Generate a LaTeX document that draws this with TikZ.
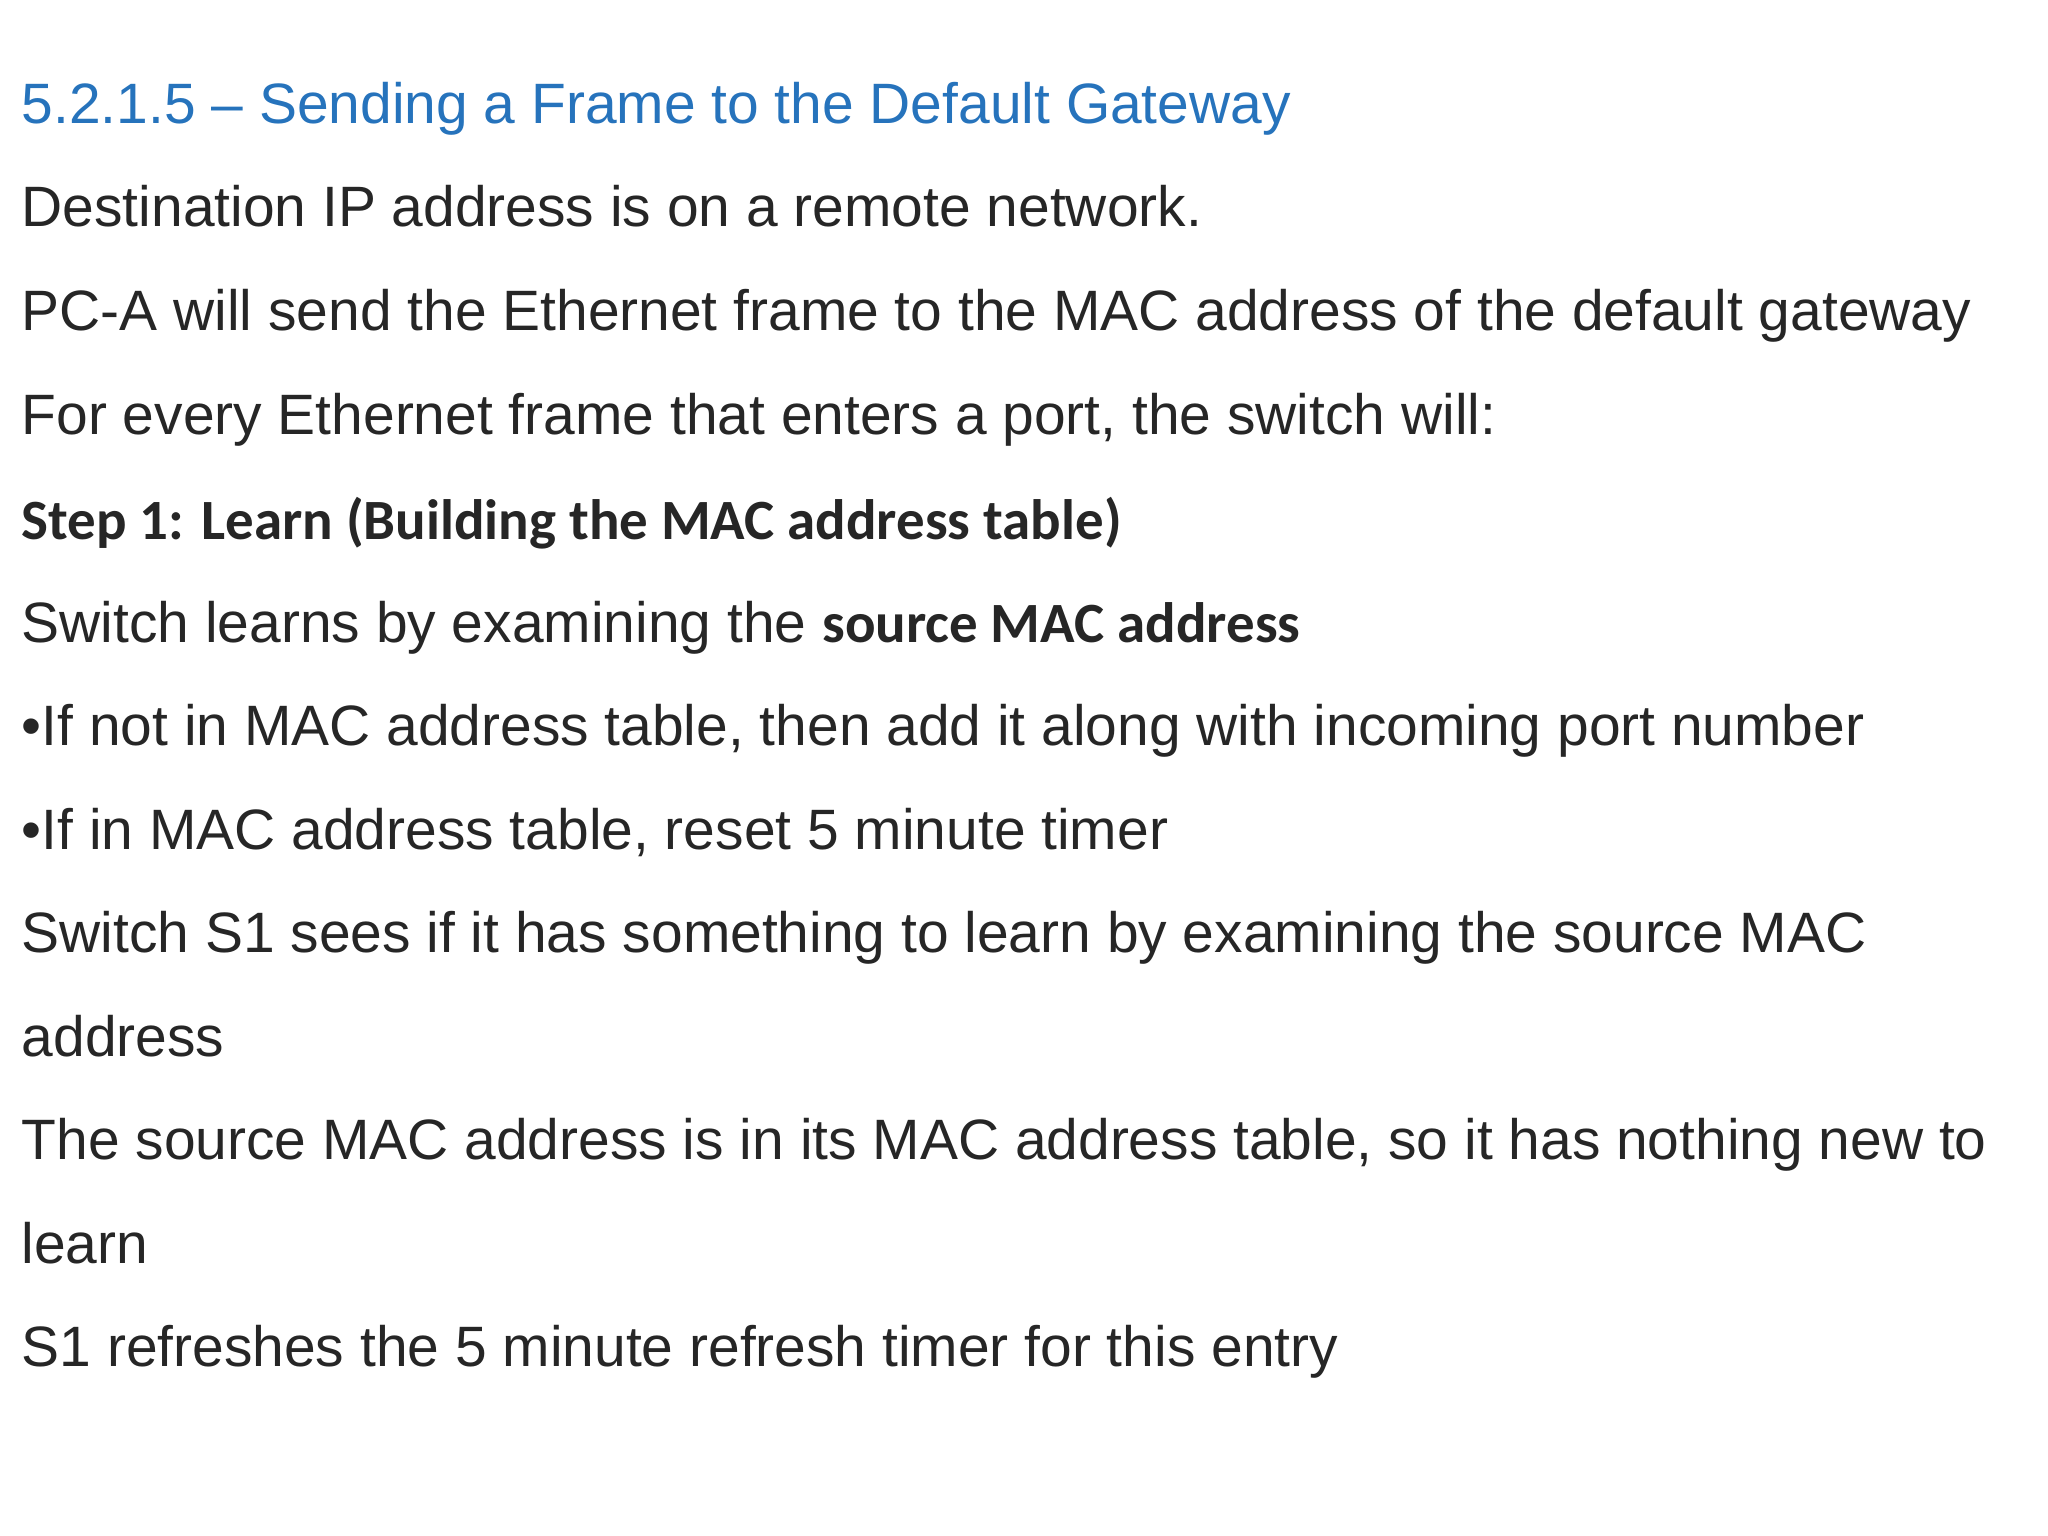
\documentclass[tikz,border=0pt]{standalone}
\usepackage{fontspec}
\setmainfont{Liberation Sans}
\newfontfamily\stepfont{Carlito}
\definecolor{titleblue}{RGB}{38,115,188}
\definecolor{bodytxt}{RGB}{38,38,38}
\begin{document}
\begin{tikzpicture}
\useasboundingbox (0,0) rectangle (20.48,15.36);
\tikzset{txt/.style={anchor=base west, inner sep=0pt, font=\fontsize{16.2pt}{19pt}\selectfont, text=bodytxt}}
\newcommand\bsrc{\stepfont\bfseries\fontsize{16.2pt}{19pt}\selectfont}
\node[txt, text=titleblue] (t) at (0.21,15.44-1.32) {5.2.1.5 – Sending a Frame to the Default Gateway};
\node[txt] (l1) at (0.21,15.44-2.35) {Destination IP address is on a remote network.};
\node[txt] (l2) at (0.21,15.44-3.39) {PC-A will send the Ethernet frame to the MAC address of the default gateway};
\node[txt] (l3) at (0.21,15.44-4.43) {For every Ethernet frame that enters a port, the switch will:};
\node[txt, font=\bsrc] (l4) at (0.21,15.44-5.48) {Step 1: Learn (Building the MAC address table)};
\node[txt] (l5) at (0.21,15.44-6.51) {Switch learns by examining the {\bsrc source MAC address}};
\node[txt] (l6) at (0.21,15.44-7.54) {•If not in MAC address table, then add it along with incoming port number};
\node[txt] (l7) at (0.21,15.44-8.58) {•If in MAC address table, reset 5 minute timer};
\node[txt] (l8) at (0.21,15.44-9.61) {Switch S1 sees if it has something to learn by examining the source MAC};
\node[txt] (l9) at (0.21,15.44-10.65) {address};
\node[txt] (l10) at (0.21,15.44-11.68) {The source MAC address is in its MAC address table, so it has nothing new to};
\node[txt] (l11) at (0.21,15.44-12.72) {learn};
\node[txt] (l12) at (0.21,15.44-13.75) {S1 refreshes the 5 minute refresh timer for this entry};
\end{tikzpicture}
\end{document}
